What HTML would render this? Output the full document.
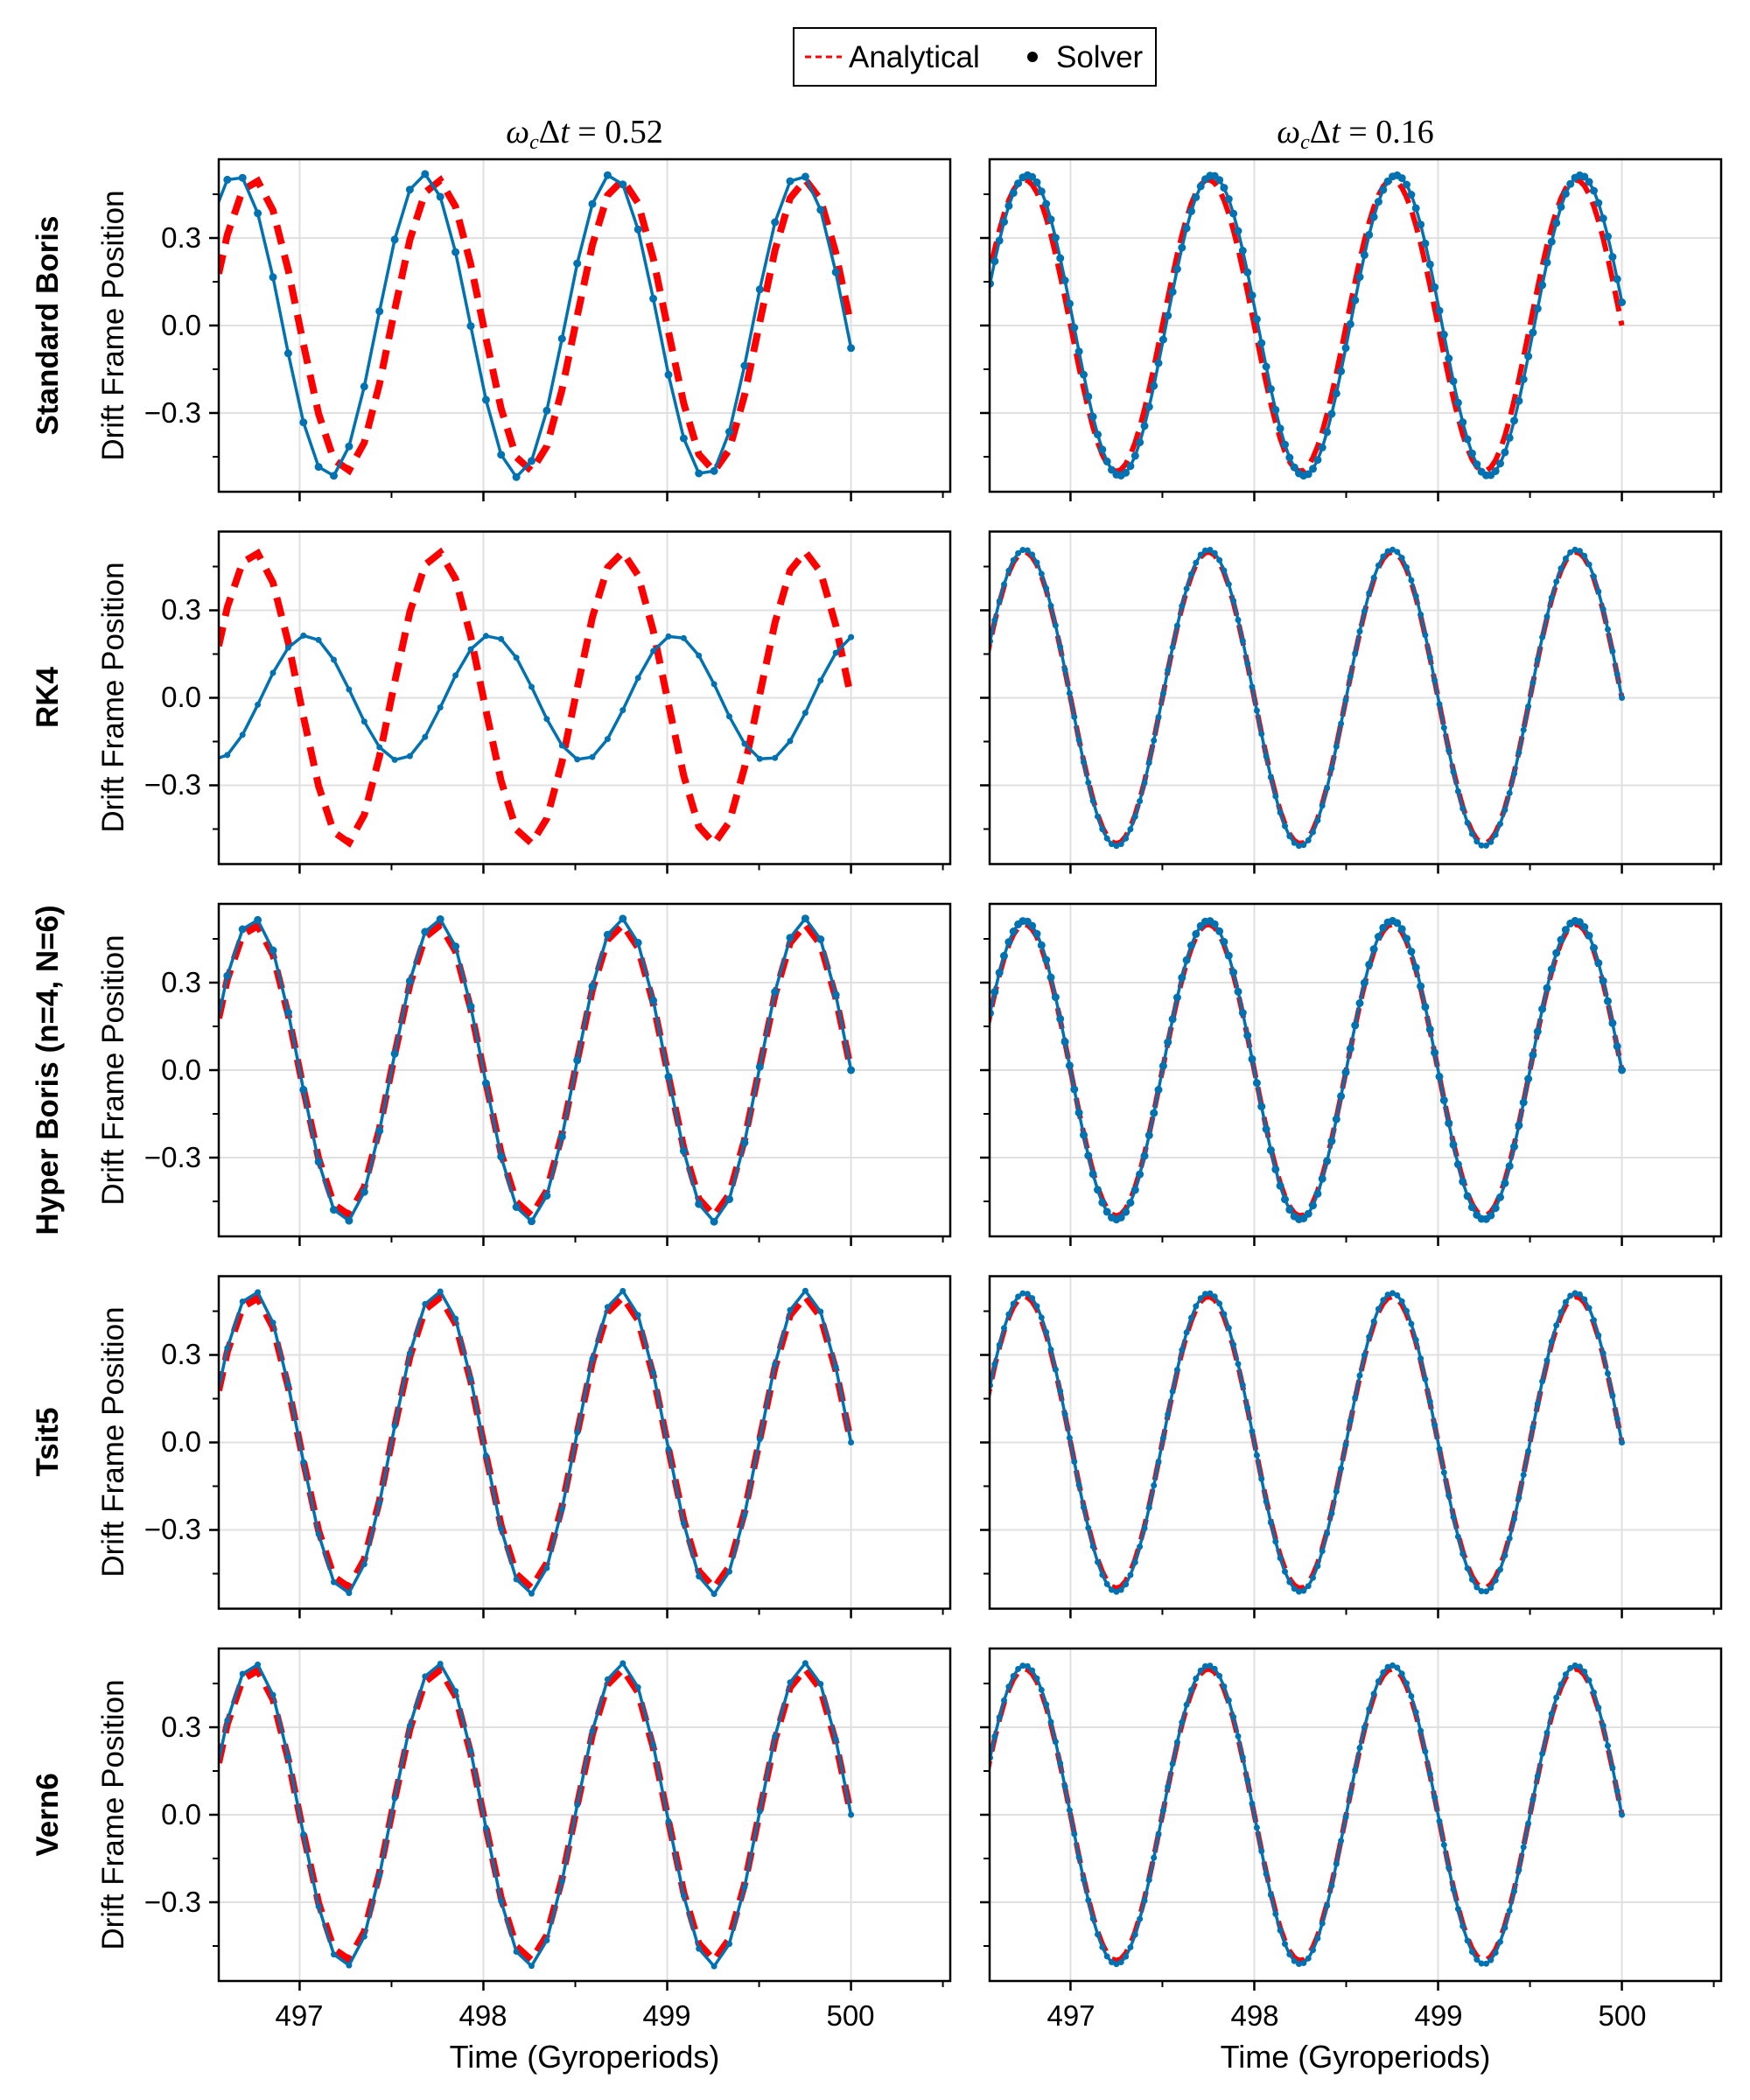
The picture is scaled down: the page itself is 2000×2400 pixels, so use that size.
<!DOCTYPE html>
<html><head><meta charset="utf-8"><style>
html,body{margin:0;padding:0;background:#fff}
svg{display:block}
text{font-family:"Liberation Sans",sans-serif;fill:#000}
</style></head><body>
<svg id="s" width="2000" height="2400" viewBox="0 0 2000 2400" xmlns="http://www.w3.org/2000/svg">
<rect width="2000" height="2400" fill="#fff"/>
<!-- legend -->
<rect x="907" y="32" width="414" height="66" fill="#fff" stroke="#000" stroke-width="2"/>
<line x1="920" y1="65" x2="962" y2="65" stroke="#f00" stroke-width="3" stroke-dasharray="7 5"/>
<text x="970" y="77" font-size="35">Analytical</text>
<circle cx="1180" cy="65" r="6" fill="#000"/>
<text x="1207" y="77" font-size="35">Solver</text>
<!-- column titles -->
<text x="668" y="163" font-size="38" text-anchor="middle" style="font-family:'Liberation Serif',serif;font-style:italic">ω<tspan font-size="24" dy="7">c</tspan><tspan dy="-7" font-style="normal">Δ</tspan>t <tspan font-style="normal">= 0.52</tspan></text>
<text x="1549" y="163" font-size="38" text-anchor="middle" style="font-family:'Liberation Serif',serif;font-style:italic">ω<tspan font-size="24" dy="7">c</tspan><tspan dy="-7" font-style="normal">Δ</tspan>t <tspan font-style="normal">= 0.16</tspan></text>
<!-- row labels -->
<g font-size="35" font-weight="bold" text-anchor="middle">
<text transform="translate(66,372) rotate(-90)">Standard Boris</text>
<text transform="translate(66,797) rotate(-90)">RK4</text>
<text transform="translate(66,1223) rotate(-90)">Hyper Boris (n=4, N=6)</text>
<text transform="translate(66,1648) rotate(-90)">Tsit5</text>
<text transform="translate(66,2074) rotate(-90)">Vern6</text>
</g>
<g font-size="35" text-anchor="middle">
<text transform="translate(141,372) rotate(-90)">Drift Frame Position</text>
<text transform="translate(141,797) rotate(-90)">Drift Frame Position</text>
<text transform="translate(141,1223) rotate(-90)">Drift Frame Position</text>
<text transform="translate(141,1648) rotate(-90)">Drift Frame Position</text>
<text transform="translate(141,2074) rotate(-90)">Drift Frame Position</text>
</g>
<!-- y tick labels -->
<g font-size="33" text-anchor="end">
<text x="230" y="283">0.3</text><text x="230" y="383">0.0</text><text x="230" y="483">−0.3</text>
<text x="230" y="708">0.3</text><text x="230" y="808">0.0</text><text x="230" y="908">−0.3</text>
<text x="230" y="1134">0.3</text><text x="230" y="1234">0.0</text><text x="230" y="1334">−0.3</text>
<text x="230" y="1559">0.3</text><text x="230" y="1659">0.0</text><text x="230" y="1759">−0.3</text>
<text x="230" y="1985">0.3</text><text x="230" y="2085">0.0</text><text x="230" y="2185">−0.3</text>
</g>
<!-- x tick labels -->
<g font-size="33" text-anchor="middle">
<text x="342" y="2315">497</text><text x="552" y="2315">498</text><text x="762" y="2315">499</text><text x="972" y="2315">500</text>
<text x="1224" y="2315">497</text><text x="1434" y="2315">498</text><text x="1644" y="2315">499</text><text x="1854" y="2315">500</text>
</g>
<text x="668" y="2363" font-size="36" text-anchor="middle">Time (Gyroperiods)</text>
<text x="1549" y="2363" font-size="36" text-anchor="middle">Time (Gyroperiods)</text>
<g id="plots"></g>
</svg>
<script>
(function(){
var NS="http://www.w3.org/2000/svg",g=document.getElementById('plots');
var cols=[250,1131],W=836,H=380,tops=[182,607.5,1033,1458.5,1884];
var xmin=496.56,xmax=500.54,ymax=0.57;
function el(n,a){var e=document.createElementNS(NS,n);for(var k in a)e.setAttribute(k,a[k]);g.appendChild(e);return e;}
var TP=2*Math.PI;
var dts=[0.52/TP,0.16/TP];
function samples(dt,f){var p=[];for(var t=500;t>=xmin-dt;t-=dt)p.unshift([t,f(t)]);return p;}
var ana=function(t){return -0.5*Math.sin(TP*(t-500));};
var solv=[
 [function(t){return -0.52*Math.sin(TP*(t-500)/1.0226+0.1496);}, function(t){return -0.515*Math.sin(TP*(t-500)/1.00213-0.155);}],
 [function(t){return 0.215*Math.cos(TP*(t-500.04));}, function(t){return -0.508*Math.sin(TP*(t-500));}],
 [function(t){return -0.52*Math.sin(TP*(t-500));}, function(t){return -0.512*Math.sin(TP*(t-500));}],
 [function(t){return -0.52*Math.sin(TP*(t-500));}, function(t){return -0.512*Math.sin(TP*(t-500));}],
 [function(t){return -0.52*Math.sin(TP*(t-500));}, function(t){return -0.512*Math.sin(TP*(t-500));}]
];
for(var r=0;r<5;r++)for(var c=0;c<2;c++){
 var X0=cols[c],Y0=tops[r];
 var sx=function(t){return X0+(t-xmin)/(xmax-xmin)*W;};
 var sy=function(v){return Y0+H/2-v/ymax*(H/2);};
 var cid='cp'+r+c;
 var cp=document.createElementNS(NS,'clipPath');cp.setAttribute('id',cid);
 var cr=document.createElementNS(NS,'rect');cr.setAttribute('x',X0);cr.setAttribute('y',Y0);cr.setAttribute('width',W);cr.setAttribute('height',H);cp.appendChild(cr);g.appendChild(cp);
 [497,498,499,500].forEach(function(t){el('line',{x1:sx(t),x2:sx(t),y1:Y0,y2:Y0+H,stroke:'#e0e0e0','stroke-width':2});});
 [0.3,0,-0.3].forEach(function(v){el('line',{x1:X0,x2:X0+W,y1:sy(v),y2:sy(v),stroke:'#e0e0e0','stroke-width':2});});
 var dt=dts[c];
 var a=samples(dt,ana);
 el('path',{d:'M'+a.map(function(p){return sx(p[0]).toFixed(1)+','+sy(p[1]).toFixed(1);}).join('L'),fill:'none',stroke:'#f00','stroke-width':c?6:8,'stroke-dasharray':c?'24 11':'22 13','clip-path':'url(#'+cid+')'});
 var b=samples(dt,solv[r][c]);
 el('path',{d:'M'+b.map(function(p){return sx(p[0]).toFixed(1)+','+sy(p[1]).toFixed(1);}).join('L'),fill:'none',stroke:'#0072b2','stroke-width':3.5,'stroke-linejoin':'round','clip-path':'url(#'+cid+')'});
 var mg=document.createElementNS(NS,'g');mg.setAttribute('clip-path','url(#'+cid+')');mg.setAttribute('fill','#0072b2');g.appendChild(mg);
 b.forEach(function(p){var m=document.createElementNS(NS,'circle');m.setAttribute('cx',sx(p[0]).toFixed(1));m.setAttribute('cy',sy(p[1]).toFixed(1));m.setAttribute('r',(r==0||r==2)?4.5:3.5);mg.appendChild(m);});
 el('rect',{x:X0,y:Y0,width:W,height:H,fill:'none',stroke:'#000','stroke-width':2.5});
 [497,498,499,500].forEach(function(t){el('line',{x1:sx(t),x2:sx(t),y1:Y0+H,y2:Y0+H+11,stroke:'#000','stroke-width':2.5});});
 [497.5,498.5,499.5,500.5].forEach(function(t){el('line',{x1:sx(t),x2:sx(t),y1:Y0+H,y2:Y0+H+7,stroke:'#000','stroke-width':2});});
 [0.3,0,-0.3].forEach(function(v){el('line',{x1:X0-11,x2:X0,y1:sy(v),y2:sy(v),stroke:'#000','stroke-width':2.5});});
 [0.45,0.15,-0.15,-0.45].forEach(function(v){el('line',{x1:X0-7,x2:X0,y1:sy(v),y2:sy(v),stroke:'#000','stroke-width':2});});
}
})();
</script>
</body></html>
